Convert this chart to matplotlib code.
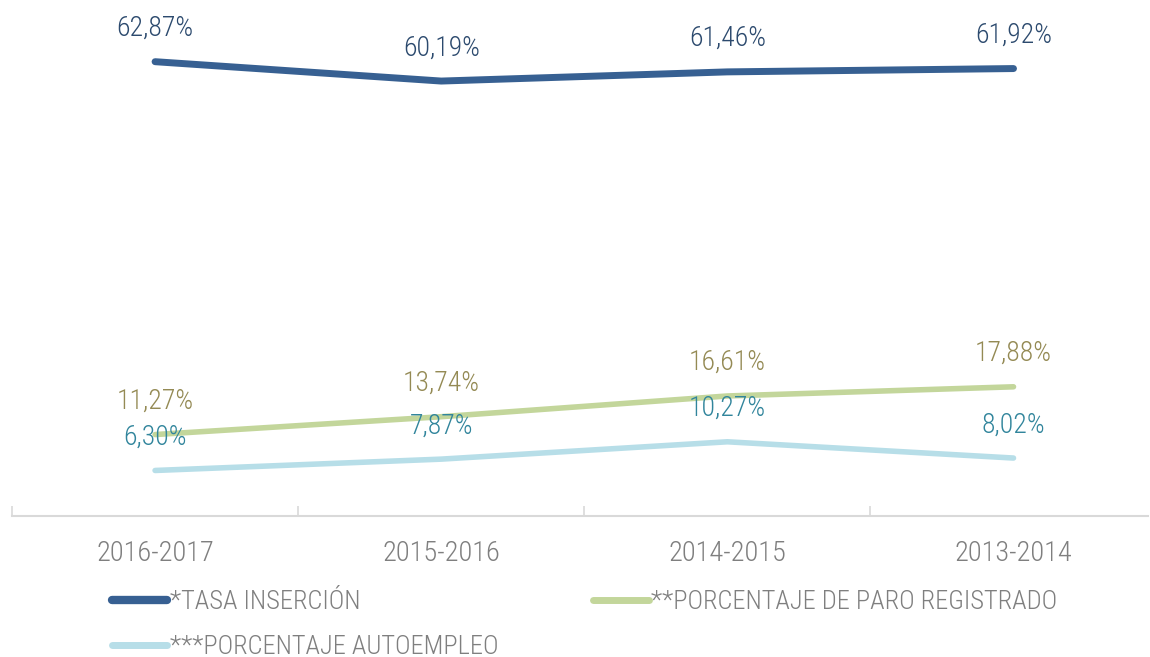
import matplotlib.pyplot as plt
from matplotlib.lines import Line2D

plt.rcParams['font.family'] = ['Roboto Condensed', 'Archivo Narrow', 'DejaVu Sans']
plt.rcParams['font.weight'] = 'light'

periodos = ["2016-2017", "2015-2016", "2014-2015", "2013-2014"]
tasa_insercion = [62.87, 60.19, 61.46, 61.92]
paro_registrado = [11.27, 13.74, 16.61, 17.88]
autoempleo = [6.30, 7.87, 10.27, 8.02]

nombres = ["*TASA INSERCIÓN", "**PORCENTAJE DE PARO REGISTRADO", "***PORCENTAJE AUTOEMPLEO"]
colores_linea = ["#376092", "#C3D69B", "#B7DEE8"]
colores_texto = ["#2C4A6E", "#948A54", "#31859C"]
grosor = [5, 4, 4]

fig = plt.figure(figsize=(11.5, 6.57), dpi=100)
ax = fig.add_axes([12/1150, 141/657, 1136/1150, 508/657])

x = list(range(len(periodos)))
series = [tasa_insercion, paro_registrado, autoempleo]
for vals, cl, ct, lw in zip(series, colores_linea, colores_texto, grosor):
    ax.plot(x, vals, color=cl, lw=lw, solid_capstyle='round', solid_joinstyle='round')
    for xi, v in zip(x, vals):
        ax.annotate(f"{v:.2f}%".replace(".", ","), (xi, v), xytext=(0, 24),
                    textcoords='offset points', ha='center', va='center',
                    fontsize=20, color=ct)

ax.set_ylim(0, 70.3)
ax.set_xlim(-0.5, 3.47)
ax.set_xticks(x)
ax.set_xticklabels(periodos, fontsize=20.5, color="#7F7F7F")
ax.set_xticks([-0.5, 0.5, 1.5, 2.5], minor=True)
ax.tick_params(axis='x', which='major', length=0, pad=17)
ax.tick_params(axis='x', which='minor', direction='in', length=7, color="#D9D9D9", width=1.2)
ax.set_yticks([])
for s in ['top', 'right', 'left']:
    ax.spines[s].set_visible(False)
ax.spines['bottom'].set_color("#D9D9D9")
ax.spines['bottom'].set_linewidth(1.5)

handles = [Line2D([], [], color=c, lw=lw + 1, solid_capstyle='round') for c, lw in zip(colores_linea, grosor)]
orden = [0, 2, 1]
leg = fig.legend([handles[i] for i in orden], [nombres[i] for i in orden], ncol=2,
                 loc='upper left', bbox_to_anchor=(88/1150, 1 - 566/657), frameon=False,
                 fontsize=19, handlelength=2.1, handletextpad=0.1, columnspacing=3.6,
                 labelspacing=0.8, labelcolor="#7F7F7F")

fig.savefig("out.png", dpi=100)
